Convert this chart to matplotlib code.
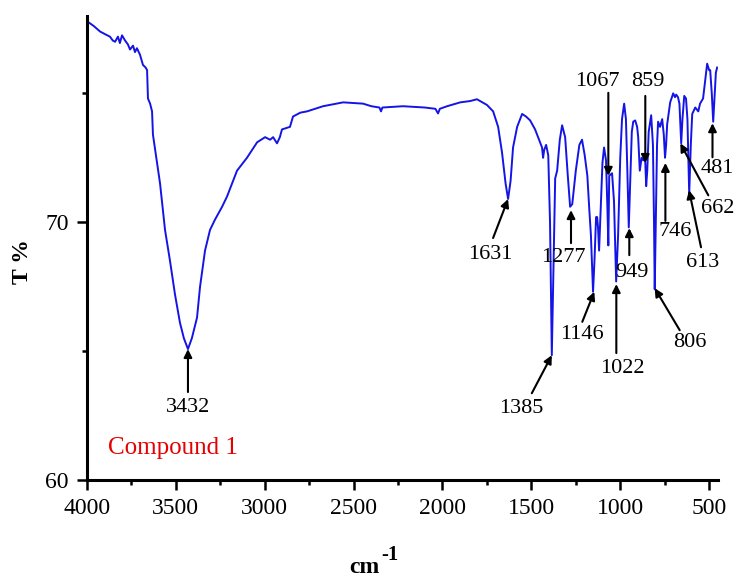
import numpy as np
import matplotlib
matplotlib.use("Agg")
import matplotlib.pyplot as plt
from matplotlib.ticker import MultipleLocator

plt.rcParams['font.family'] = ['Liberation Serif', 'DejaVu Serif']

# ---- data ----
wavenumber = [4000, 3960, 3927, 3900, 3871, 3855, 3842, 3826, 3815, 3803, 3786, 3770, 3758,
              3741, 3730, 3719, 3702, 3685, 3670, 3662, 3657, 3645, 3634, 3629, 3589, 3561,
              3533, 3505, 3477, 3455, 3432, 3410, 3381, 3364, 3336, 3308, 3280, 3240, 3212,
              3156, 3100, 3043, 2998, 2970, 2953, 2931, 2915, 2903, 2858, 2841, 2800, 2762,
              2672, 2559, 2447, 2400, 2355, 2346, 2338, 2222, 2100, 2040, 2025, 2015, 1974,
              1900, 1845, 1806, 1788, 1750, 1715, 1687, 1665, 1645, 1631, 1617, 1603, 1580,
              1552, 1530, 1507, 1479, 1451, 1440, 1434, 1428, 1417, 1405, 1395, 1385, 1375,
              1366, 1355, 1340, 1327, 1310, 1295, 1282, 1270, 1250, 1230, 1215, 1200, 1185,
              1175, 1165, 1153, 1145, 1136, 1130, 1125, 1119, 1110, 1100, 1091, 1080, 1072,
              1067, 1062, 1046, 1035, 1023, 1012, 1000, 990, 978, 968, 960, 952, 944, 935,
              927, 916, 905, 899, 890, 880, 871, 865, 859, 854, 848, 840, 826, 816, 810, 806,
              800, 793, 787, 776, 764, 755, 748, 742, 736, 719, 702, 692, 685, 675, 667, 657,
              650, 640, 630, 622, 612, 603, 595, 578, 561, 551, 534, 520, 511, 500, 494, 485,
              477, 470, 462, 455]
transmittance = [77.8, 77.6, 77.4, 77.3, 77.2, 77.05, 77.0, 77.2, 76.95, 77.25, 77.05, 76.9, 76.7,
                 76.85, 76.6, 76.75, 76.5, 76.1, 76.0, 75.9, 74.8, 74.6, 74.3, 73.4, 71.5, 69.7,
                 68.5, 67.2, 66.1, 65.5, 65.08, 65.5, 66.3, 67.5, 68.9, 69.7, 70.1, 70.6, 71.0,
                 72.0, 72.5, 73.1, 73.3, 73.2, 73.3, 73.06, 73.3, 73.6, 73.7, 74.1, 74.25, 74.3,
                 74.5, 74.65, 74.6, 74.5, 74.45, 74.3, 74.45, 74.5, 74.45, 74.4, 74.22, 74.4, 74.5,
                 74.65, 74.7, 74.77, 74.7, 74.55, 74.3, 73.7, 72.7, 71.5, 70.9, 71.6, 72.9, 73.7,
                 74.2, 74.1, 73.95, 73.6, 73.1, 72.9, 72.5, 72.8, 73.0, 72.6, 70.0, 64.84, 68.5,
                 71.7, 72.0, 73.2, 73.76, 73.3, 71.8, 70.6, 70.7, 72.0, 73.0, 73.2, 72.6, 71.8,
                 70.6, 69.5, 67.3, 68.5, 70.2, 70.2, 69.8, 68.9, 70.5, 72.3, 72.9, 72.4, 70.5,
                 69.1, 71.8, 71.9, 70.8, 67.7, 69.5, 72.5, 74.0, 74.6, 74.0, 72.0, 69.8, 71.5, 73.5,
                 73.9, 73.95, 73.7, 73.3, 72.0, 72.5, 72.4, 72.6, 72.3, 71.4, 72.0, 73.5, 74.15,
                 73.0, 70.0, 67.4, 70.0, 73.0, 73.9, 73.7, 74.0, 73.4, 72.5, 73.0, 73.8, 74.65,
                 75.0, 74.85, 74.95, 74.85, 74.6, 73.06, 74.0, 74.9, 74.8, 74.0, 71.1, 73.0, 74.2,
                 74.45, 74.3, 74.6, 74.8, 75.6, 76.15, 75.9, 75.9, 75.0, 73.9, 74.8, 75.8, 76.0]

peak_labels = ['3432', '1631', '1385', '1277', '1146', '1067', '1022', '949', '859',
               '806', '746', '662', '613', '481']
peak_wn = [3432, 1631, 1385, 1277, 1146, 1067, 1022, 949, 859, 806, 746, 662, 613, 481]
peak_T = [65.08, 70.9, 64.84, 70.47, 67.3, 71.8, 67.6, 69.77, 72.3, 67.44, 72.3, 73.06,
          71.24, 73.84]

x_ticks = [4000, 3500, 3000, 2500, 2000, 1500, 1000, 500]
y_ticks = [60, 70]

# ---- layout: arrow tail and label offsets (pixels, relative to arrow tip) ----
tail_off = [(0, -43), (-15, -39), (-20, -38), (0, -33), (-12, -30), (0, 83), (0, -69),
            (0, -27), (0, 67), (25, -42), (0, -58), (28, -52), (12, -57), (0, -34)]
text_off = [(0, -58), (-18, -55), (-31, -53), (-8, -47), (-12, -43), (-11, 94), (6, -84),
            (3, -44), (3, 81), (35, -54), (10, -69), (37, -65), (14, -72), (5, -45)]

fig = plt.figure(figsize=(7.39, 5.77), dpi=100)
ax = fig.add_axes([87/739, 1 - 480/577, (718-87)/739, (480-16)/577])

ax.plot(wavenumber, transmittance, color='#1414e6', lw=1.4)

ax.set_xlim(4000, 450)
ax.set_ylim(60, 78)
ax.set_xticks(x_ticks)
ax.set_yticks(y_ticks)
ax.xaxis.set_minor_locator(MultipleLocator(250))
ax.yaxis.set_minor_locator(MultipleLocator(5))

for s in ['top', 'right']:
    ax.spines[s].set_visible(False)
for s in ['left', 'bottom']:
    ax.spines[s].set_linewidth(2.2)

ax.tick_params(which='major', direction='out', length=7, width=1.8, labelsize=17)
ax.tick_params(axis='x', which='major', pad=6)
ax.tick_params(axis='y', which='major', pad=6)
ax.tick_params(which='minor', direction='out', length=3.6, width=1.8)

arrow_kw = dict(arrowstyle='-|>', color='black', lw=1.5, mutation_scale=12,
                shrinkA=0, shrinkB=0)
for lab, w, t, to, xo in zip(peak_labels, peak_wn, peak_T, tail_off, text_off):
    ax.annotate('', xy=(w, t), xytext=to, textcoords='offset pixels', arrowprops=arrow_kw)
    ax.annotate(lab, xy=(w, t), xytext=xo, textcoords='offset pixels',
                ha='center', va='center', fontsize=16)

ax.text((173-87)/631, (480-448)/464, 'Compound 1', color='#e60000', fontsize=18,
        ha='center', va='center', transform=ax.transAxes)

fig.text(23/739, 1 - 262/577, 'T %', rotation=90, ha='center', va='center',
         fontsize=17, fontweight='bold')
fig.text(380/739, 1 - 573/577, 'cm', ha='right', va='baseline',
         fontsize=17, fontweight='bold')
fig.text(381/739, 1 - 560/577, '-1', ha='left', va='baseline',
         fontsize=15, fontweight='bold')

fig.savefig('out.png', dpi=100)
